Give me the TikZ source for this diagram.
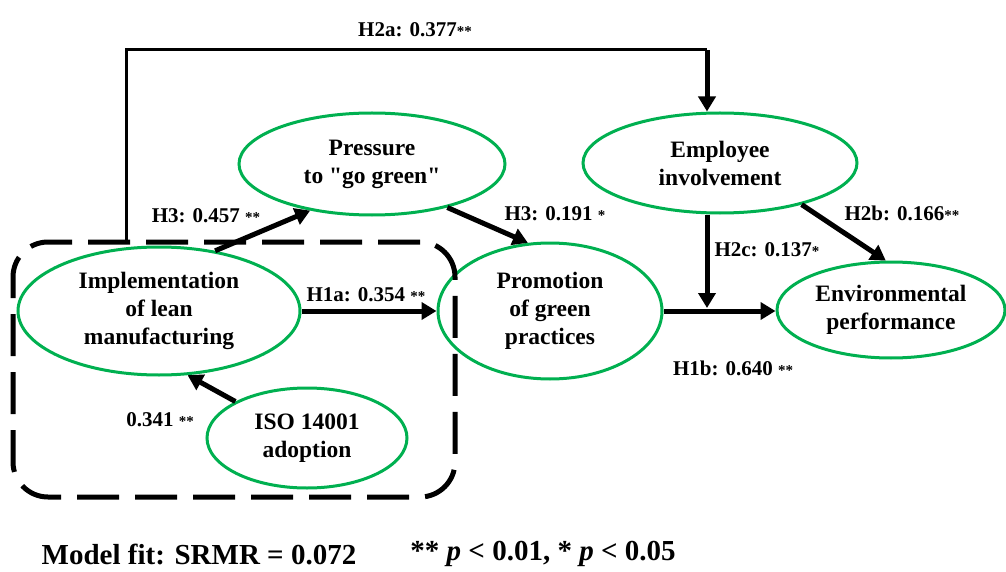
\documentclass[tikz,border=0pt]{standalone}
\usepackage{fontspec}
\setmainfont{Liberation Serif}[Ligatures=TeXOff]
\usetikzlibrary{arrows.meta,shapes.geometric}
\definecolor{leafgreen}{RGB}{0,176,80}
\newcommand{\sig}[1]{{\fontsize{15}{15}\selectfont #1}}
\newcommand{\dq}{\symbol{34}}

\begin{document}
\begin{tikzpicture}[x=1pt,y=1pt,
	latent/.style={ellipse, draw=leafgreen, line width=3pt, inner sep=0pt, align=center, font=\fontsize{23.5}{28}\selectfont\bfseries},
	effect/.style={line width=5pt, -{Triangle[length=15pt,width=17pt]}},
	coef/.style={inner sep=0pt, font=\fontsize{21}{25}\selectfont\bfseries},
	legend/.style={inner sep=0pt, font=\fontsize{29}{33}\selectfont\bfseries}]
	\useasboundingbox (0,0) rectangle (1006,-572);
	\node [latent, minimum width=282pt, minimum height=128pt] (impl) at (159,-311) {Implementation\\of lean\\manufacturing};
	\node [latent, minimum width=200pt, minimum height=100pt] (iso) at (307,-438) {ISO 14001\\adoption};
	\node [latent, minimum width=266pt, minimum height=102pt] (press) at (372,-164) {Pressure\\to \dq go green\dq};
	\node [latent, minimum width=224pt, minimum height=136pt] (promo) at (550,-311) {Promotion\\of green\\practices};
	\node [latent, minimum width=274pt, minimum height=100pt] (emp) at (720,-163) {Employee\\involvement};
	\node [latent, minimum width=228pt, minimum height=96pt] (env) at (891,-310) {Environmental\\performance};
	\node [draw, line width=5pt, dash pattern=on 42pt off 16pt, rounded corners=35pt, minimum width=442pt, minimum height=255pt] (leanbox) at (234,-369.5) {};
	\coordinate (corner) at (126,-50);
	\coordinate (join) at (707,-308);
	\draw [line width=3pt] (corner |- leanbox.north) -- (corner) -- (corner -| join);
	\draw [effect] (corner -| join) -- (join |- emp.north);
	\draw [effect] (impl.47) -- (press.217);
	\draw [effect] (press.330.6) -- (promo.108);
	\draw [effect] (impl.east) -- (impl.east -| promo.west);
	\draw [effect] (iso.153) -- (impl.294);
	\draw [effect] (promo.east) -- (promo.east -| env.west);
	\draw [effect] (join |- emp.south) -- (join);
	\draw [effect] (emp.333) -- (env.96);
	\node [coef] (h2a) at (415,-30) {H2a: 0.377\sig{**}};
	\node [coef] (h3a) at (206,-216) {H3: 0.457 \sig{**}};
	\node [coef] (h3b) at (555,-214) {H3: 0.191 \sig{*}};
	\node [coef] (h2b) at (902,-213) {H2b: 0.166\sig{**}};
	\node [coef] (h2c) at (767,-250) {H2c: 0.137\sig{*}};
	\node [coef] (h1a) at (366,-295) {H1a: 0.354 \sig{**}};
	\node [coef] (iso2impl) at (160,-420) {0.341 \sig{**}};
	\node [coef] (h1b) at (733,-368) {H1b: 0.640 \sig{**}};
	\node [legend] (fit) at (199,-554) {Model fit: SRMR = 0.072};
	\node [legend] (sigkey) at (543,-554) {** \textit{p} < 0.01, * \textit{p} < 0.05};
\end{tikzpicture}
\end{document}
